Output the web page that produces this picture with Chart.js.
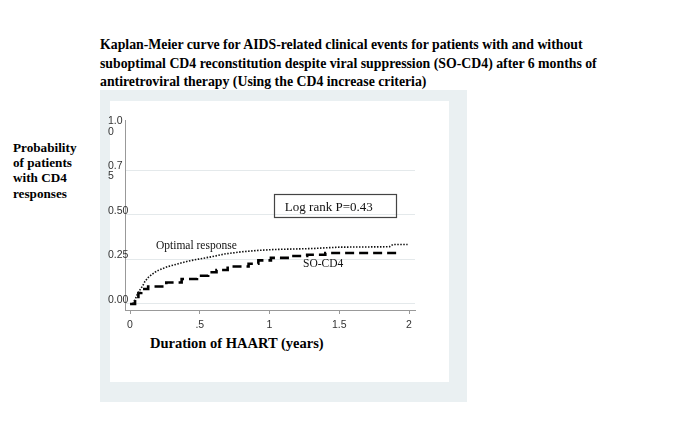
<!DOCTYPE html>
<html>
<head>
<meta charset="utf-8">
<script src="https://cdn.jsdelivr.net/npm/chart.js@4.4.0/dist/chart.umd.min.js"></script>
<style>
body{margin:0;background:#fff;width:685px;height:434px;position:relative;overflow:hidden;font-family:"Liberation Serif","Times New Roman",serif;color:#000}
#fundo{position:absolute;left:100px;top:90px;width:367px;height:312px;background:#eaf0f2}
#painel{position:absolute;left:110px;top:101px;width:339px;height:281px;background:#fff}
#titulo{position:absolute;left:100px;top:36px;font-weight:bold;font-size:13.8px;line-height:18.5px;white-space:nowrap}
#tituloY{position:absolute;left:13px;top:140px;font-weight:bold;font-size:13.2px;line-height:15.2px}
#tituloX{position:absolute;left:150px;top:334px;font-weight:bold;font-size:14.5px;line-height:18px;white-space:nowrap}
#grafico{position:absolute;left:0;top:0}
</style>
</head>
<body>
<div id="fundo"></div>
<div id="painel"></div>
<div id="titulo">Kaplan-Meier curve for AIDS-related clinical events for patients with and without<br>suboptimal CD4 reconstitution despite viral suppression (SO-CD4) after 6 months of<br>antiretroviral therapy (Using the CD4 increase criteria)</div>
<div id="tituloY">Probability<br>of patients<br>with CD4<br>responses</div>
<div id="tituloX">Duration of HAART (years)</div>
<canvas id="grafico" width="685" height="434"></canvas>
<script>
// valores
const tempoOtima = [0, 0.02, 0.036, 0.05, 0.072, 0.09, 0.107, 0.13, 0.155, 0.18, 0.203, 0.24, 0.275, 0.346, 0.418, 0.49, 0.585, 0.68, 0.80, 0.92, 1.04, 1.3, 1.5, 1.86, 1.885, 1.99];
const probOtima  = [0, 0, 0.024, 0.05, 0.08, 0.10, 0.126, 0.148, 0.164, 0.178, 0.188, 0.20, 0.21, 0.225, 0.24, 0.251, 0.264, 0.28, 0.292, 0.30, 0.305, 0.31, 0.318, 0.32, 0.333, 0.333];

const tempoSOCD4 = [0, 0.036, 0.06, 0.08, 0.13, 0.26, 0.37, 0.48, 0.56, 0.62, 0.70, 0.85, 0.92, 1.01, 1.13, 1.27, 1.40, 1.93];
const probSOCD4  = [0, 0.024, 0.061, 0.084, 0.098, 0.12, 0.14, 0.158, 0.177, 0.19, 0.21, 0.225, 0.244, 0.258, 0.268, 0.275, 0.285, 0.285];

const ticksX = [0, 0.5, 1, 1.5, 2];
const rotulosX = ['0', '.5', '1', '1.5', '2'];
const ticksY = [0, 0.25, 0.5, 0.75, 1];
const rotulosY = [['0.00'], ['0.25'], ['0.50'], ['0.7', '5'], ['1.0', '0']];

const nomesSeries = ['Optimal response', 'SO-CD4'];
const textoLogRank = 'Log rank P=0.43';

function juntaPontos(tempos, probs) {
    return tempos.map((t, i) => ({x: t, y: probs[i]}));
}

// rotulos do eixo y por cima do eixo (o chart.js corta os rotulos na caixa da escala)
const rotulosEixoY = {
    id: 'rotulosEixoY',
    afterDraw(chart) {
        const ctx = chart.ctx;
        const sy = chart.scales.y;
        ctx.save();
        ctx.fillStyle = '#333';
        ctx.font = '10.5px "Liberation Sans", Arial, sans-serif';
        ctx.textAlign = 'left';
        ctx.textBaseline = 'middle';
        ticksY.forEach((v, i) => {
            let yy = sy.getPixelForValue(v);
            rotulosY[i].forEach((linha, j) => {
                ctx.fillText(linha, sy.left, yy - 4 + j * 10.5);
            });
        });
        ctx.restore();
    }
};

// textos e caixa dentro do grafico
const anotacoes = {
    id: 'anotacoes',
    afterDatasetsDraw(chart) {
        const ctx = chart.ctx;
        const sx = chart.scales.x, sy = chart.scales.y;
        ctx.save();
        // caixa do log rank
        let x1 = sx.getPixelForValue(1.032), x2 = sx.getPixelForValue(1.908);
        let y1 = sy.getPixelForValue(0.615), y2 = sy.getPixelForValue(0.487);
        ctx.strokeStyle = '#444';
        ctx.lineWidth = 1.2;
        ctx.strokeRect(Math.round(x1) + 0.5, Math.round(y1) + 0.5, Math.round(x2 - x1), Math.round(y2 - y1));
        ctx.fillStyle = '#111';
        ctx.textBaseline = 'middle';
        ctx.textAlign = 'left';
        ctx.font = '13px "Liberation Serif", serif';
        ctx.fillText(textoLogRank, sx.getPixelForValue(1.11), sy.getPixelForValue(0.537));
        ctx.font = '11.5px "Liberation Serif", serif';
        ctx.fillText(nomesSeries[0], sx.getPixelForValue(0.186), sy.getPixelForValue(0.325));
        ctx.fillText(nomesSeries[1], sx.getPixelForValue(1.24), sy.getPixelForValue(0.225));
        ctx.restore();
    }
};

const data = {
    datasets: [{
        label: nomesSeries[0],
        data: juntaPontos(tempoOtima, probOtima),
        borderColor: '#111',
        borderWidth: 1.6,
        borderDash: [1.5, 1.5],
        pointRadius: 0,
        tension: 0,
        fill: false
    }, {
        label: nomesSeries[1],
        data: juntaPontos(tempoSOCD4, probSOCD4),
        borderColor: '#000',
        borderWidth: 2.6,
        borderDash: [9, 5],
        stepped: true,
        pointRadius: 0,
        fill: false
    }]
};

const config = {
    type: 'line',
    data: data,
    options: {
        responsive: false,
        animation: false,
        devicePixelRatio: 1,
        layout: {padding: {left: 108, right: 270, top: 120, bottom: 104}},
        plugins: {legend: {display: false}, tooltip: {enabled: false}},
        scales: {
            x: {
                type: 'linear',
                min: -0.036,
                max: 2.043,
                afterFit: (s) => { s.height = 20; },
                afterBuildTicks: (s) => { s.ticks = ticksX.map(v => ({value: v})); },
                border: {color: '#999', width: 1},
                grid: {drawOnChartArea: false, drawTicks: true, tickLength: 4, color: '#999'},
                ticks: {
                    padding: 5,
                    color: '#333',
                    font: {family: '"Liberation Sans", Arial, sans-serif', size: 10.5},
                    callback: (v, i) => rotulosX[i]
                }
            },
            y: {
                type: 'linear',
                min: -0.034,
                max: 1.03,
                afterFit: (s) => { s.width = 17; },
                afterBuildTicks: (s) => { s.ticks = ticksY.map(v => ({value: v})); },
                border: {color: '#999', width: 1},
                grid: {
                    drawTicks: false,
                    color: (c) => c.tick && c.tick.value == 1 ? 'rgba(0,0,0,0)' : '#e4e9eb',
                    lineWidth: 1
                },
                ticks: {display: false}
            }
        }
    },
    plugins: [anotacoes, rotulosEixoY]
};

let ctx = document.getElementById('grafico');
grafico = new Chart(ctx, config);
</script>
</body>
</html>
